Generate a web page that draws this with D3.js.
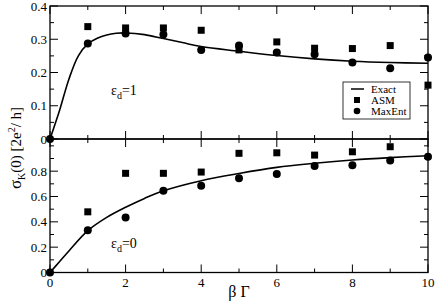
<!DOCTYPE html>
<html><head><meta charset="utf-8">
<script src="https://cdn.jsdelivr.net/npm/d3@7"></script>
<style>body{margin:0;background:#fff}svg{display:block}text{font-family:"Liberation Serif","Times New Roman",serif}</style>
</head><body><svg id="c" width="436" height="301"></svg>
<script>
const xPts = [0,1,2,3,4,5,6,7,8,9,10];
// top panel (eps_d = 1)
const asmTopX = [1,2,3,4,5,6,7,8,9,10];
const asmTop = [0.338,0.334,0.334,0.327,0.268,0.292,0.273,0.272,0.281,0.162];
const maxTop = [0,0.287,0.317,0.314,0.268,0.281,0.260,0.255,0.230,0.213,0.245];
const exactTopX = [0,0.25,0.5,0.75,1,1.25,1.5,1.75,2,2.5,3,3.5,4,5,6,7,8,9,10];
const exactTop = [0,0.085,0.18,0.25,0.286,0.303,0.313,0.318,0.319,0.314,0.302,0.29,0.278,0.264,0.251,0.241,0.234,0.23,0.228];
// bottom panel (eps_d = 0)
const asmBotX = [1,2,3,4,5,6,7,8,9];
const asmBot = [0.479,0.783,0.783,0.793,0.941,0.945,0.927,0.953,0.993];
const maxBot = [0,0.334,0.435,0.645,0.685,0.745,0.777,0.840,0.846,0.885,0.914];
const exactBotX = [0,0.25,0.5,1,1.5,2,2.5,3,4,5,6,7,8,9,10];
const exactBot = [0,0.085,0.17,0.33,0.435,0.515,0.585,0.645,0.725,0.782,0.83,0.862,0.888,0.907,0.922];
const xTicks = [0,2,4,6,8,10];
const topYTicks = [0,0.1,0.2,0.3,0.4];
const botYTicks = [0,0.2,0.4,0.6,0.8];

const svg = d3.select("#c");
const L=50,R=428,T=6,M=139,B=272.5;
const x = d3.scaleLinear().domain([0,10]).range([L,R]);
const yTop = d3.scaleLinear().domain([0,0.4]).range([M,T]);
const yBot = d3.scaleLinear().domain([0,1.054]).range([B,M]);

function panel(y, yMajor, yMinorStep, yMax, fmt, showX, exX, exY, asX, asY, mxY){
  const g = svg.append("g");
  const [y0,y1] = y.range();
  g.append("rect").attr("x",L).attr("y",y1).attr("width",R-L).attr("height",y0-y1)
    .attr("fill","none").attr("stroke","#000").attr("stroke-width",1.3);
  for(let v=0; v<=10; v++){
    const len = v%2===0?8:4;
    g.append("line").attr("x1",x(v)).attr("x2",x(v)).attr("y1",y0).attr("y2",y0-len).attr("stroke","#000");
    g.append("line").attr("x1",x(v)).attr("x2",x(v)).attr("y1",y1).attr("y2",y1+len).attr("stroke","#000");
  }
  const nMin = Math.floor(yMax/yMinorStep+1e-6);
  for(let i=0;i<=nMin;i++){
    const v=i*yMinorStep;
    const major = yMajor.some(t=>Math.abs(t-v)<1e-6);
    const len = major?8:4;
    g.append("line").attr("x1",L).attr("x2",L+len).attr("y1",y(v)).attr("y2",y(v)).attr("stroke","#000");
    g.append("line").attr("x1",R).attr("x2",R-len).attr("y1",y(v)).attr("y2",y(v)).attr("stroke","#000");
  }
  g.selectAll(".yl").data(yMajor).enter().append("text")
    .attr("x",L-3).attr("y",d=>y(d)+4.5).attr("text-anchor","end").attr("font-size",13).text(fmt);
  if(showX){
    g.selectAll(".xl").data(xTicks).enter().append("text")
      .attr("x",d=>x(d)).attr("y",y0+14).attr("text-anchor","middle").attr("font-size",13).text(d=>d);
  }
  const line = d3.line().x((d,i)=>x(exX[i])).y(d=>y(d)).curve(d3.curveCatmullRom.alpha(0.5));
  g.append("path").attr("d",line(exY)).attr("fill","none").attr("stroke","#000").attr("stroke-width",1.6);
  g.selectAll(".sq").data(asY).enter().append("rect")
    .attr("x",(d,i)=>x(asX[i])-3.5).attr("y",d=>y(d)-3.5).attr("width",7).attr("height",7).attr("fill","#000");
  g.selectAll(".ci").data(mxY).enter().append("circle")
    .attr("cx",(d,i)=>x(xPts[i])).attr("cy",d=>y(d)).attr("r",4).attr("fill","#000");
}
panel(yTop, topYTicks, 0.05, 0.4, d=>d===0?"0":d3.format(".1f")(d), false, exactTopX, exactTop, asmTopX, asmTop, maxTop);
panel(yBot, botYTicks, 0.1, 1.0, d=>d===0?"0":d3.format(".1f")(d), true, exactBotX, exactBot, asmBotX, asmBot, maxBot);

function epsLabel(px,py,val){
  const t = svg.append("text").attr("x",px).attr("y",py).attr("font-size",14);
  t.append("tspan").text("ε");
  t.append("tspan").attr("font-size",10).attr("dy",4).text("d");
  t.append("tspan").attr("dy",-4).text("="+val);
}
epsLabel(111,95,"1");
epsLabel(111,248,"0");

svg.append("text").attr("x",239).attr("y",297).attr("text-anchor","middle").attr("font-size",16).text("β Γ");
const yl = svg.append("text").attr("transform","translate(21,148) rotate(-90)").attr("text-anchor","middle").attr("font-size",15);
yl.append("tspan").attr("font-size",17).text("σ");
yl.append("tspan").attr("font-size",10).attr("dy",4).text("K");
yl.append("tspan").attr("dy",-4).text("(0) [2e");
yl.append("tspan").attr("font-size",10).attr("dy",-6).text("2");
yl.append("tspan").attr("dy",6).text("/ h]");

const lg = svg.append("g");
lg.append("rect").attr("x",343).attr("y",82).attr("width",67).attr("height",37).attr("fill","#fff").attr("stroke","#000").attr("stroke-width",0.8);
lg.append("line").attr("x1",351).attr("x2",364).attr("y1",89).attr("y2",89).attr("stroke","#000").attr("stroke-width",1.5);
lg.append("rect").attr("x",354).attr("y",97).attr("width",6).attr("height",6).attr("fill","#000");
lg.append("circle").attr("cx",357).attr("cy",111).attr("r",3.3).attr("fill","#000");
[["Exact",92.5],["ASM",103.5],["MaxEnt",114.5]].forEach(([s,yy])=>{
  lg.append("text").attr("x",371).attr("y",yy).attr("font-size",11).text(s);
});
</script></body></html>
